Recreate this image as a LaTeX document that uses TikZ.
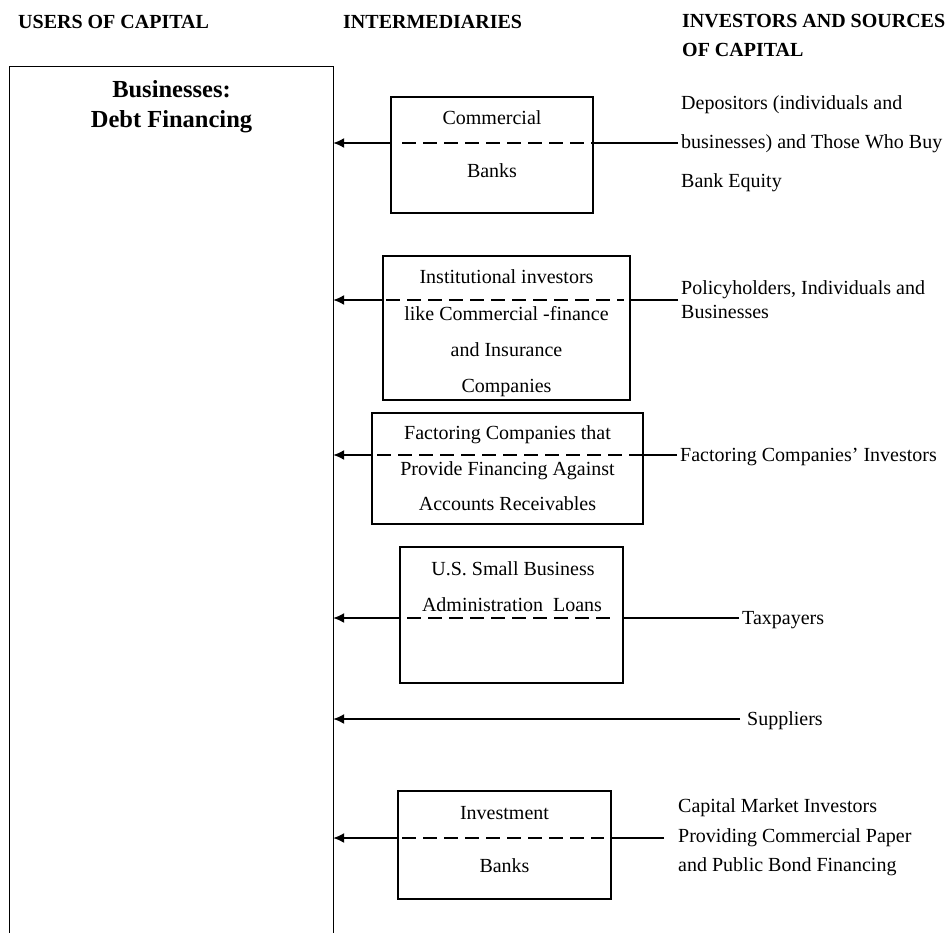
\documentclass[tikz,border=0pt]{standalone}
\usepackage{fontspec}
\setmainfont{Liberation Serif}
\usetikzlibrary{arrows.meta}

\tikzset{
    txt/.style={inner sep=0pt, anchor=base, font=\fontsize{20}{24}\selectfont},
    head/.style={inner sep=0pt, anchor=base west, font=\fontsize{20}{24}\selectfont\bfseries},
    src/.style={inner xsep=3pt, inner ysep=0pt, anchor=base west, font=\fontsize{20}{24}\selectfont},
    ibox/.style={draw, line width=1.3pt, inner sep=0pt},
    flow/.style={line width=1.6pt, -{Latex[length=11pt,width=10pt]}},
    link/.style={line width=1.6pt},
    split/.style={line width=2pt, dash pattern=on 14pt off 7pt}
}

\begin{document}
\begin{tikzpicture}[x=1pt,y=-1pt]
        \useasboundingbox (0,0) rectangle (952,933);
        % kopjes
        \node [head] (huse) at (18,29) {USERS OF CAPITAL};
        \node [head] (hint) at (343,29) {INTERMEDIARIES};
        \node [head] (hsrc) at (682,28) {INVESTORS AND SOURCES};
        \node [head] (hsrc2) at (682,57) {OF CAPITAL};
        % gebruikers
        \node [minimum width=323pt, minimum height=900pt, inner sep=0pt] (users) at (171.5,517) {};
        \draw [line width=1.3pt] (users.south west) |- (users.north east) -- (users.south east);
        \node [txt, font=\fontsize{24.5}{28}\selectfont\bfseries] (bus1) at (171.5,98) {Businesses:};
        \node [txt, font=\fontsize{24.5}{28}\selectfont\bfseries] (bus2) at (171.5,128) {Debt Financing};
        % rijen
        \coordinate (r1) at (0,143);
        \coordinate (r2) at (0,300);
        \coordinate (r3) at (0,455);
        \coordinate (r4) at (0,618);
        \coordinate (r5) at (0,719);
        \coordinate (r6) at (0,838);
        % tussenpersonen
        \node [ibox, minimum width=202pt, minimum height=116pt] (bank) at (492,155) {};
        \node [txt] (bank1) at (492,125) {Commercial};
        \node [txt] (bank2) at (492,178) {Banks};
        \node [ibox, minimum width=247pt, minimum height=144pt] (inst) at (506.5,328) {};
        \node [txt] (inst1) at (506.5,283) {Institutional investors};
        \node [txt] (inst2) at (506.5,320) {like Commercial -finance};
        \node [txt] (inst3) at (506.5,356) {and Insurance};
        \node [txt] (inst4) at (506.5,392) {Companies};
        \node [ibox, minimum width=271pt, minimum height=111pt] (fact) at (507.5,468.5) {};
        \node [txt] (fact1) at (507.5,439) {Factoring Companies that};
        \node [txt] (fact2) at (507.5,475) {Provide Financing Against};
        \node [txt] (fact3) at (507.5,510) {Accounts Receivables};
        \node [ibox, minimum width=223pt, minimum height=136pt] (sba) at (511.5,615) {};
        \node [txt] (sba1) at (513,575) {U.S. Small Business};
        \node [txt] (sba2) at (512,611) {Administration~ Loans};
        \node [ibox, minimum width=213pt, minimum height=108pt] (inv) at (504.5,845) {};
        \node [txt] (inv1) at (504.5,819) {Investment};
        \node [txt] (inv2) at (504.5,872) {Banks};
        % bronnen
        \node [src] (dep1) at (678,110) {Depositors (individuals and};
        \node [src] (dep2) at (678,149) {businesses) and Those Who Buy};
        \node [src] (dep3) at (678,188) {Bank Equity};
        \node [src] (pol1) at (678,294) {Policyholders, Individuals and};
        \node [src] (pol2) at (678,318) {Businesses};
        \node [src] (fin) at (677,461) {Factoring Companies' Investors};
        \node [src] (tax) at (739,624) {Taxpayers};
        \node [src, inner xsep=7pt] (sup) at (740,725) {Suppliers};
        \node [src, inner xsep=14pt] (cap1) at (664,812) {Capital Market Investors};
        \node [src, inner xsep=14pt] (cap2) at (664,842) {Providing Commercial Paper};
        \node [src, inner xsep=14pt] (cap3) at (664,871) {and Public Bond Financing};
        % lijnen
        \draw [link] (dep2.west |- r1) -- (bank.east |- r1);
        \draw [split] (bank.west |- r1) ++(12,0) -- (bank.east |- r1);
        \draw [flow] (bank.west |- r1) -- (users.east |- r1);
        \draw [link] (pol1.west |- r2) -- (inst.east |- r2);
        \draw [split] (inst.west |- r2) ++(4,0) -- ([xshift=-7pt]inst.east |- r2);
        \draw [flow] (inst.west |- r2) -- (users.east |- r2);
        \draw [link] (fin.west |- r3) -- (fact.east |- r3);
        \draw [split] (fact.west |- r3) ++(6,0) -- (fact.east |- r3);
        \draw [flow] (fact.west |- r3) -- (users.east |- r3);
        \draw [link] (tax.west |- r4) -- (sba.east |- r4);
        \draw [split] (sba.west |- r4) ++(8,0) -- ([xshift=-14pt]sba.east |- r4);
        \draw [flow] (sba.west |- r4) -- (users.east |- r4);
        \draw [flow] (sup.west |- r5) -- (users.east |- r5);
        \draw [link] (cap2.west |- r6) -- (inv.east |- r6);
        \draw [split] (inv.west |- r6) ++(5,0) -- ([xshift=-8pt]inv.east |- r6);
        \draw [flow] (inv.west |- r6) -- (users.east |- r6);
    \end{tikzpicture}
\end{document}
